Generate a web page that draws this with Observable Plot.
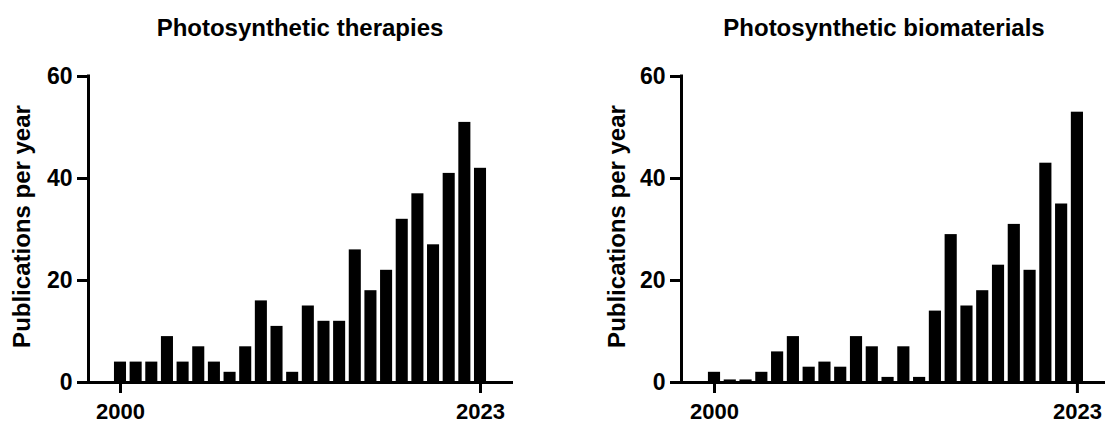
<!DOCTYPE html>
<html>
<head>
<meta charset="utf-8">
<script src="https://cdn.jsdelivr.net/npm/d3@7"></script>
<script src="https://cdn.jsdelivr.net/npm/@observablehq/plot@0.6"></script>
<style>
  html, body { margin: 0; padding: 0; background: #fff; }
  #root { position: relative; width: 1105px; height: 423px; overflow: hidden; font-family: "Liberation Sans", Arial, sans-serif; }
  .title { position: absolute; top: 16px; font-size: 24px; line-height: 24px; font-weight: bold; text-align: center; color: #000; white-space: nowrap; }
  .panel { position: absolute; top: 50px; }
</style>
</head>
<body>
<div id="root"></div>
<script>
const years = d3.range(2000, 2024);
const therapies = [4, 4, 4, 9, 4, 7, 4, 2, 7, 16, 11, 2, 15, 12, 12, 26, 18, 22, 32, 37, 27, 41, 51, 42];
const biomaterials = [2, 0.5, 0.5, 2, 6, 9, 3, 4, 3, 9, 7, 1, 7, 1, 14, 29, 15, 18, 23, 31, 22, 43, 35, 53];
const titles = ["Photosynthetic therapies", "Photosynthetic biomaterials"];
const yLabel = "Publications per year";
const xTicks = [2000, 2023];
const yTicks = [0, 20, 40, 60];

const FONT = "Liberation Sans, Arial, sans-serif";
const root = document.getElementById("root");

function panel(values, opts) {
  const data = years.map((year, i) => ({year, value: values[i]}));
  const half = 0.385;
  return Plot.plot({
    width: opts.width,
    height: 373,
    marginTop: 26,
    marginBottom: 41,
    marginLeft: opts.marginLeft,
    marginRight: opts.marginRight,
    style: {fontFamily: FONT, background: "transparent", overflow: "visible"},
    x: {type: "linear", domain: opts.xDomain},
    y: {domain: [0, 60]},
    marks: [
      Plot.rectY(data, {x1: d => d.year - half, x2: d => d.year + half, y: "value", fill: "#000"}),
      Plot.ruleY([0], {stroke: "#000", strokeWidth: 3, insetLeft: -11}),
      Plot.ruleX([opts.xDomain[0]], {y1: 0, y2: 60, stroke: "#000", strokeWidth: 3, strokeLinecap: "square"}),
      Plot.axisY({ticks: yTicks, tickSize: 11, tickPadding: 5, strokeWidth: 3, fontSize: 23, fontWeight: "bold", label: null, tickFormat: d => String(d)}),
      Plot.axisX({ticks: xTicks, tickSize: 11, tickPadding: 10, strokeWidth: 3, fontSize: 22, fontWeight: "bold", label: null, tickFormat: d => String(d)}),
      Plot.text([yLabel], {frameAnchor: "left", rotate: -90, dx: opts.labelDx, dy: -3, fontSize: 24, fontWeight: "bold", fill: "#000", textAnchor: "middle"})
    ]
  });
}

const left = panel(therapies, {width: 552, marginLeft: 88, marginRight: 39, xDomain: [1997.956, 2025.108], labelDx: -66});
left.classList.add("panel");
left.style.left = "0px";
root.appendChild(left);

const right = panel(biomaterials, {width: 553, marginLeft: 129, marginRight: 0, xDomain: [1997.909, 2024.78], labelDx: -64});
right.classList.add("panel");
right.style.left = "552px";
root.appendChild(right);

const centers = [300, 884];
titles.forEach((t, i) => {
  const d = document.createElement("div");
  d.className = "title";
  d.textContent = t;
  d.style.left = (centers[i] - 250) + "px";
  d.style.width = "500px";
  root.appendChild(d);
});
</script>
</body>
</html>
